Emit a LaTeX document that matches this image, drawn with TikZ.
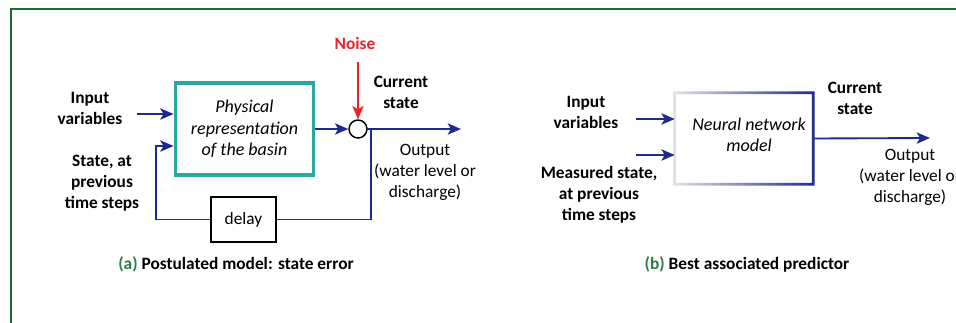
\documentclass[tikz,border=0pt]{standalone}
\usepackage{fontspec}
\setmainfont{Carlito}
\usetikzlibrary{arrows.meta}
\definecolor{navy}{HTML}{1F2A8C}
\definecolor{cadre}{HTML}{1E6B3A}
\definecolor{sarcelle}{HTML}{2AA8A0}
\definecolor{rouge}{HTML}{E8262A}
\definecolor{legende}{HTML}{2E7D46}

\begin{document}
\begin{tikzpicture}[x=0.75pt,y=-0.75pt]
\tikzstyle{lien}=[->,>={Stealth[length=10pt,width=8.5pt,inset=2.5pt]},line width=1.4pt,navy]
\tikzset{etiquette/.style={font=\fontsize{13}{15.75}\selectfont\bfseries,align=center},
texte/.style={font=\fontsize{13}{15.75}\selectfont,align=center},
italique/.style={font=\fontsize{13.5}{16}\selectfont\itshape,align=center},
bloc/.style={draw=#1,inner sep=0pt},
bloc/.default={black}}
\clip (0,0) rectangle (956,322);
\draw[cadre,line width=2pt] (11,400) -- (11,9) -- (1000,9);

% (a) modele postule
\node[bloc=sarcelle,line width=2.4pt,minimum width=104pt,minimum height=69pt,italique] (A) at (244.5,129) {Physical\\representation\\of the basin};
\node[bloc,circle,line width=1.1pt,minimum size=13.5pt] (C) at (358,129) {};
\node[bloc,line width=1.1pt,minimum width=48.75pt,minimum height=33.75pt,texte] (D) at (243.5,219.5) {delay};

\node[etiquette] (A1) at (90,108) {Input\\variables};
\node[etiquette] (A2) at (102,183) {State, at\\previous\\time steps};
\node[etiquette,text=rouge] (A3) at (355,43) {Noise};
\node[etiquette] (A4) at (401,92) {Current\\state};
\node[texte] (A5) at (425,172) {Output\\(water level or\\discharge)};
\node[etiquette] (A6) at (236,264) {\textcolor{legende}{(a)} Postulated model: state error};

\coordinate (E1) at (137,114);
\coordinate (E2) at (156,146);
\coordinate (E3) at (358,62);
\coordinate (S1) at (461,129);
\coordinate (R1) at (371,129);

\draw[lien] (E1) -- (E1 -| A.west);
\draw[lien] (A.east |- C) -- (C.west);
\draw[lien,rouge] (E3) -- (C.north);
\draw[lien] (C.east) -- (S1);
\draw[navy,line width=1.4pt] (R1) |- (D.east);
\draw[lien] (D.west) -| (E2) -- (E2 -| A.west);

% (b) meilleur predicteur
\node[inner sep=0pt,minimum width=103.5pt,minimum height=68.25pt] (N) at (744,138.5) {};
\node[italique] (N1) at (749,134.5) {Neural network\\model};
\shade[left color=gray!22,right color=navy,even odd rule]
  ([xshift=-1.1pt,yshift=1.1pt]N.north west) rectangle ([xshift=1.1pt,yshift=-1.1pt]N.south east)
  ([xshift=1.1pt,yshift=-1.1pt]N.north west) rectangle ([xshift=-1.1pt,yshift=1.1pt]N.south east);

\node[etiquette] (B1) at (586,112) {Input\\variables};
\node[etiquette] (B2) at (599,195) {Measured state,\\at previous\\time steps};
\node[etiquette] (B4) at (855,98) {Current\\state};
\node[texte] (B5) at (910,177) {Output\\(water level or\\discharge)};
\node[etiquette] (B6) at (747,264) {\textcolor{legende}{(b)} Best associated predictor};

\coordinate (F1) at (636,119);
\coordinate (F2) at (636,155);
\coordinate (S2) at (930,138);

\draw[lien] (F1) -- (F1 -| N.west);
\draw[lien] (F2) -- (F2 -| N.west);
\draw[lien] (N.east) -- (S2);
\end{tikzpicture}
\end{document}
